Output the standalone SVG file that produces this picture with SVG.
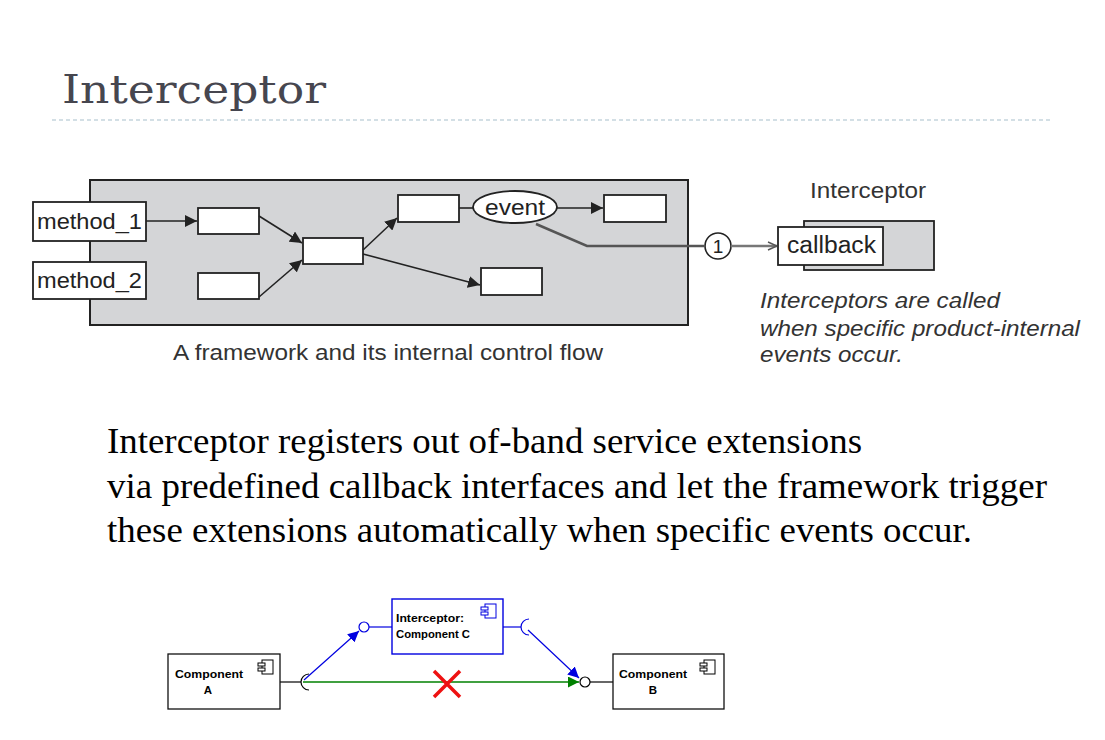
<svg xmlns="http://www.w3.org/2000/svg" width="1105" height="740" viewBox="0 0 1105 740">
<style>
.sans{font-family:"Liberation Sans",Arial,sans-serif}
.fw{fill:#fff;stroke:#222;stroke-width:1.8}
.lbl{font-family:"Liberation Sans",Arial,sans-serif;font-size:22px;fill:#333}
.ln{stroke:#222;stroke-width:1.6;fill:none}
.cmp{fill:#fff;stroke:#111;stroke-width:1.3}
.ct{font-family:"Liberation Sans",Arial,sans-serif;font-size:11.5px;font-weight:bold;fill:#000}
.serif{font-family:"Liberation Serif","Times New Roman",serif}
</style>
<defs>
<marker id="ah2" viewBox="0 0 10 10" refX="10" refY="5" markerWidth="12" markerHeight="12" orient="auto" markerUnits="userSpaceOnUse">
<path d="M0,0 L10,5 L0,10 Z" fill="#222"/>
</marker>
<marker id="open" viewBox="0 0 10 10" refX="10" refY="5" markerWidth="10" markerHeight="10" orient="auto" markerUnits="userSpaceOnUse">
<path d="M1,1 L10,5 L1,9" fill="none" stroke="#555" stroke-width="1.5"/>
</marker>
<marker id="blue" viewBox="0 0 10 10" refX="10" refY="5" markerWidth="11" markerHeight="11" orient="auto" markerUnits="userSpaceOnUse">
<path d="M0,0 L10,5 L0,10 Z" fill="#0000e0"/>
</marker>
<marker id="green" viewBox="0 0 10 10" refX="10" refY="5" markerWidth="11" markerHeight="11" orient="auto" markerUnits="userSpaceOnUse">
<path d="M0,0 L10,5 L0,10 Z" fill="#008000"/>
</marker>
<g id="icon">
<rect x="4" y="0" width="11" height="14" fill="#fff" stroke="#000" stroke-width="1"/>
<rect x="0" y="3" width="7" height="3" fill="#fff" stroke="#000" stroke-width="1"/>
<rect x="0" y="8" width="7" height="3" fill="#fff" stroke="#000" stroke-width="1"/>
</g>
</defs>
<rect width="1105" height="740" fill="#fff"/>

<g id="title">
<text x="62" y="103" font-family="'DejaVu Serif',serif" font-size="40" fill="#46464f" textLength="264" lengthAdjust="spacingAndGlyphs">Interceptor</text>
<line x1="52" y1="120" x2="1050" y2="120" stroke="#a8c0cc" stroke-width="1.2" stroke-dasharray="4,3"/>
</g>

<g id="framework">
<rect x="90" y="180" width="598" height="145" fill="#d4d5d7" stroke="#222" stroke-width="2"/>
</g>
<g id="method_1"><rect x="33" y="202" width="113" height="39" class="fw"/><text x="37" y="229" class="sans" font-size="22" fill="#222" textLength="105" lengthAdjust="spacingAndGlyphs">method_1</text></g>
<g id="method_2"><rect x="33" y="262" width="113" height="37" class="fw"/><text x="37" y="288" class="sans" font-size="22" fill="#222" textLength="105" lengthAdjust="spacingAndGlyphs">method_2</text></g>
<g id="box1"><rect x="198" y="208" width="61" height="26" class="fw"/></g>
<g id="box2"><rect x="198" y="273" width="61" height="26" class="fw"/></g>
<g id="box3"><rect x="303" y="238" width="60" height="26" class="fw"/></g>
<g id="box4"><rect x="398" y="195" width="61" height="27" class="fw"/></g>
<g id="event"><ellipse cx="515" cy="207" rx="42" ry="16" class="fw"/><text x="485" y="215" class="sans" font-size="22" fill="#222" textLength="60" lengthAdjust="spacingAndGlyphs">event</text></g>
<g id="box5"><rect x="604" y="195" width="62" height="27" class="fw"/></g>
<g id="box6"><rect x="481" y="268" width="61" height="27" class="fw"/></g>
<g id="caption"><text x="173" y="360" class="lbl" textLength="430" lengthAdjust="spacingAndGlyphs">A framework and its internal control flow</text></g>

<g id="interceptor">
<text x="810" y="198" class="lbl" textLength="116" lengthAdjust="spacingAndGlyphs">Interceptor</text>
<rect x="804" y="221" width="130" height="49" fill="#d4d5d7" stroke="#222" stroke-width="1.8"/>
<rect x="778" y="227" width="105" height="38" class="fw"/>
<text x="787" y="253" class="sans" font-size="23" fill="#222" textLength="89" lengthAdjust="spacingAndGlyphs">callback</text>
</g>
<g id="note">
<text class="lbl" font-style="italic" x="760" y="308" textLength="240" lengthAdjust="spacingAndGlyphs">Interceptors are called</text>
<text class="lbl" font-style="italic" x="760" y="336" textLength="320" lengthAdjust="spacingAndGlyphs">when specific product-internal</text>
<text class="lbl" font-style="italic" x="760" y="362" textLength="143" lengthAdjust="spacingAndGlyphs">events occur.</text>
</g>
<g id="step1">
<circle cx="718" cy="246" r="13" fill="#fff" stroke="#222" stroke-width="1.6"/>
<text x="718" y="253" class="sans" font-size="19" fill="#222" text-anchor="middle">1</text>
</g>

<g id="connectors">
<line x1="146" y1="221" x2="197" y2="221" class="ln" marker-end="url(#ah2)"/>
<line x1="259" y1="216" x2="302" y2="243" class="ln" marker-end="url(#ah2)"/>
<line x1="259" y1="297" x2="302" y2="260" class="ln" marker-end="url(#ah2)"/>
<line x1="363" y1="250" x2="397" y2="218" class="ln" marker-end="url(#ah2)"/>
<line x1="363" y1="254" x2="480" y2="285" class="ln" marker-end="url(#ah2)"/>
<line x1="459" y1="208" x2="473" y2="208" class="ln"/>
<line x1="557" y1="208" x2="603" y2="208" class="ln" marker-end="url(#ah2)"/>
<polyline points="536,224 587,246 705,246" fill="none" stroke="#555" stroke-width="2.5"/>
<line x1="731" y1="246" x2="777" y2="246" stroke="#777" stroke-width="2.5" marker-end="url(#open)"/>

<line x1="280" y1="682" x2="301" y2="682" stroke="#000" stroke-width="1.2"/>
<path d="M309,674 A8,8 0 0 0 309,690" fill="none" stroke="#000" stroke-width="1.2"/>
<line x1="303" y1="682" x2="579" y2="682" stroke="#008000" stroke-width="1.5" marker-end="url(#green)"/>
<circle cx="585" cy="682" r="5" fill="#fff" stroke="#000" stroke-width="1.2"/>
<line x1="590" y1="682" x2="613" y2="682" stroke="#000" stroke-width="1.2"/>
<line x1="304" y1="680" x2="359" y2="631" stroke="#0000e0" stroke-width="1.2" marker-end="url(#blue)"/>
<circle cx="364" cy="627" r="5" fill="#fff" stroke="#0000e0" stroke-width="1.2"/>
<line x1="369" y1="627" x2="392" y2="627" stroke="#0000e0" stroke-width="1.2"/>
<line x1="503" y1="627" x2="521" y2="627" stroke="#0000e0" stroke-width="1.2"/>
<path d="M529,619 A8,8 0 0 0 529,635" fill="none" stroke="#0000e0" stroke-width="1.2"/>
<line x1="528" y1="630" x2="579" y2="678" stroke="#0000e0" stroke-width="1.2" marker-end="url(#blue)"/>
<path d="M434,671 L460,697 M460,671 L434,697" stroke="#ee1111" stroke-width="3.5" fill="none"/>
</g>

<g id="paragraph">
<text class="serif" font-size="36" fill="#000" x="107" y="453" textLength="755" lengthAdjust="spacingAndGlyphs">Interceptor registers out of-band service extensions</text>
<text class="serif" font-size="36" fill="#000" x="107" y="498" textLength="940" lengthAdjust="spacingAndGlyphs">via predefined callback interfaces and let the framework trigger</text>
<text class="serif" font-size="36" fill="#000" x="107" y="542" textLength="865" lengthAdjust="spacingAndGlyphs">these extensions automatically when specific events occur.</text>
</g>

<g id="componentA">
<rect x="168" y="654" width="112" height="55" class="cmp"/>
<text x="175" y="678" class="ct" textLength="68" lengthAdjust="spacingAndGlyphs">Component</text>
<text x="208" y="694" class="ct" text-anchor="middle">A</text>
<use href="#icon" x="258" y="660"/>
</g>
<g id="componentB">
<rect x="613" y="654" width="111" height="55" class="cmp"/>
<text x="619" y="678" class="ct" textLength="68" lengthAdjust="spacingAndGlyphs">Component</text>
<text x="653" y="694" class="ct" text-anchor="middle">B</text>
<use href="#icon" x="700" y="660"/>
</g>
<g id="componentC">
<rect x="392" y="599" width="111" height="55" fill="#fff" stroke="#0000e0" stroke-width="1.4"/>
<text x="396" y="622" class="ct" textLength="68" lengthAdjust="spacingAndGlyphs">Interceptor:</text>
<text x="396" y="638" class="ct" textLength="74" lengthAdjust="spacingAndGlyphs">Component C</text>
<g transform="translate(481,604)">
<rect x="4" y="0" width="11" height="14" fill="#fff" stroke="#0000e0" stroke-width="1"/>
<rect x="0" y="3" width="7" height="3" fill="#fff" stroke="#0000e0" stroke-width="1"/>
<rect x="0" y="8" width="7" height="3" fill="#fff" stroke="#0000e0" stroke-width="1"/>
</g>
</g>
</svg>
